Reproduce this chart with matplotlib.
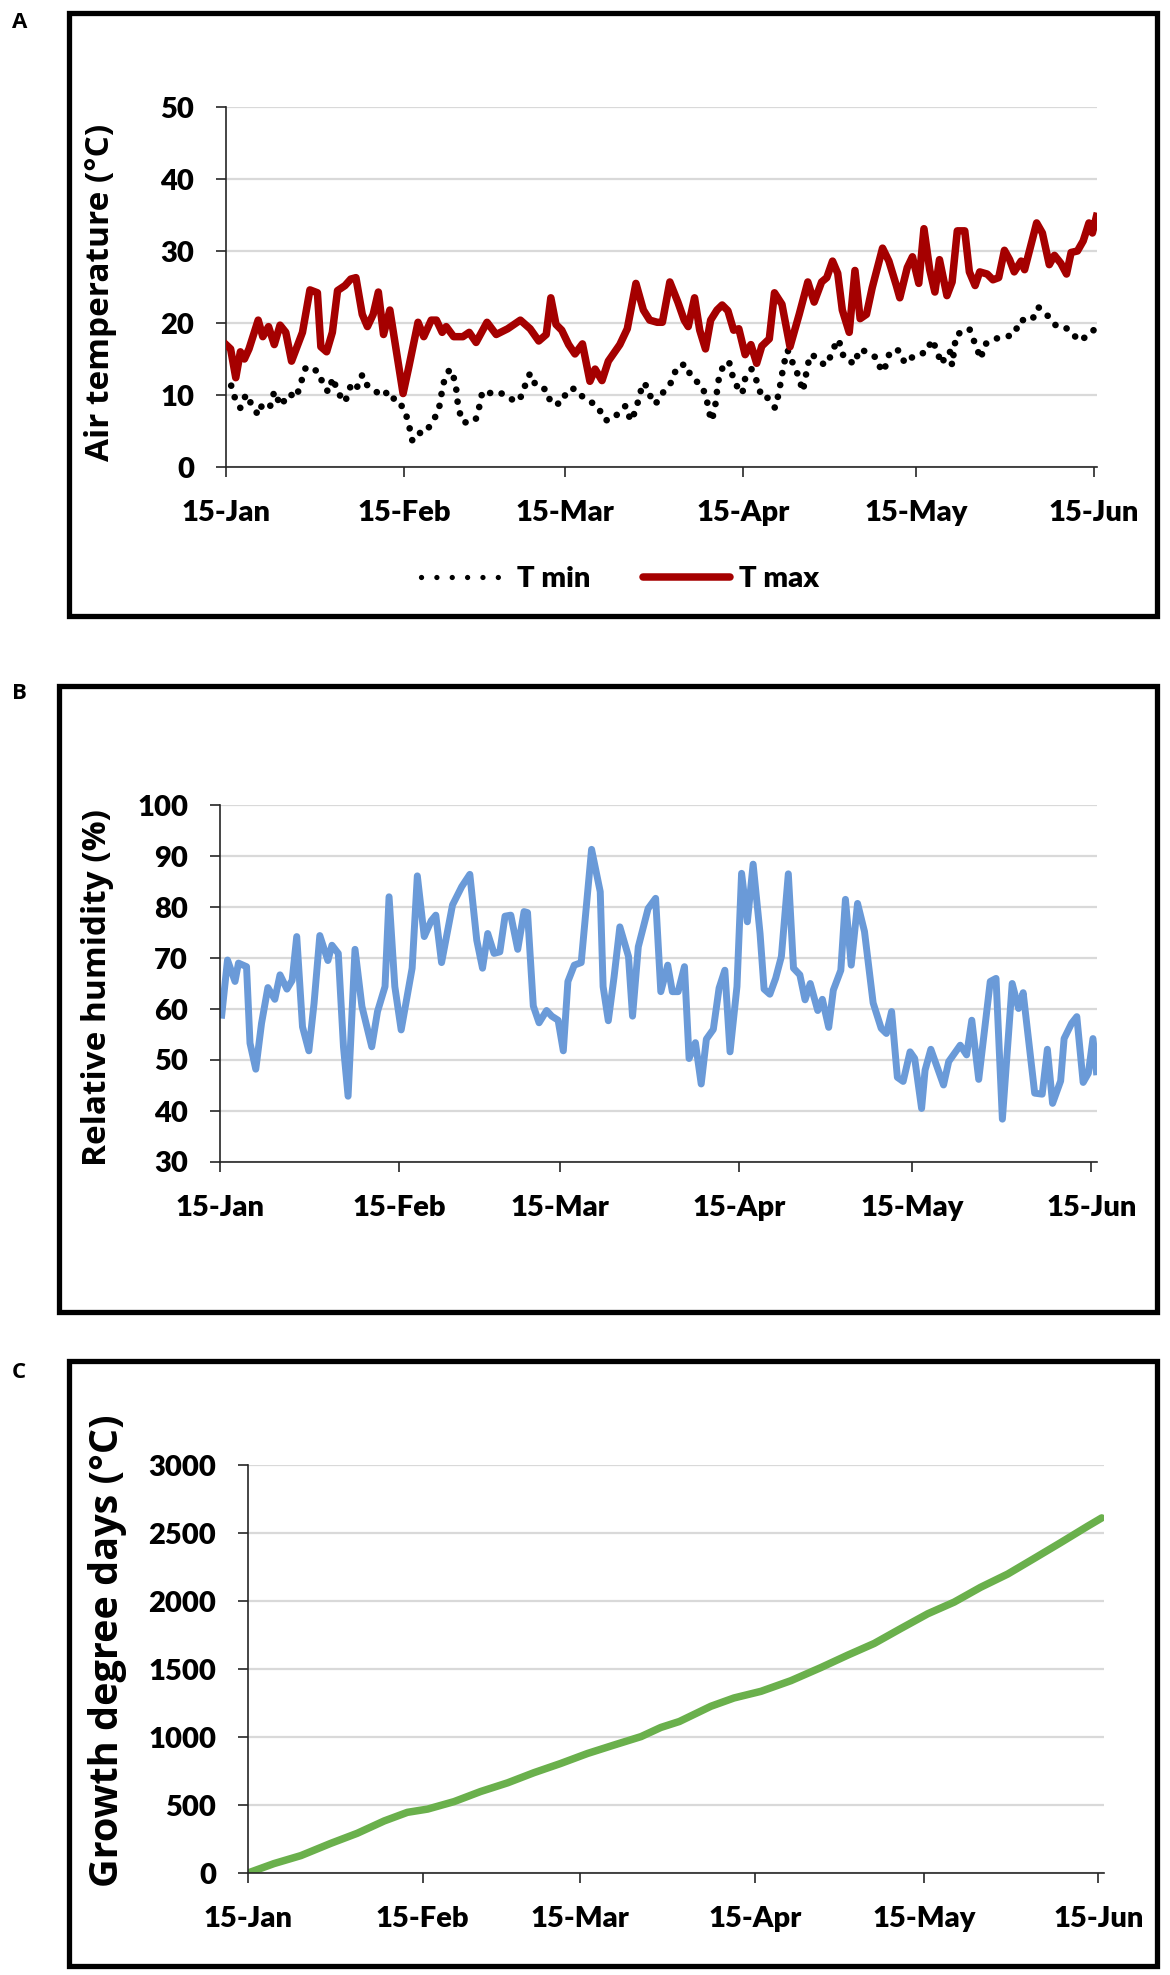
import matplotlib
matplotlib.use("Agg")
import matplotlib.pyplot as plt
import matplotlib.transforms as mtransforms
from matplotlib.patches import Rectangle
from matplotlib.lines import Line2D

# ---------------- data ----------------
tick_days = [0, 31, 59, 90, 120, 151]
tick_labels = ["15-Jan", "15-Feb", "15-Mar", "15-Apr", "15-May", "15-Jun"]

tmax_day = [0, 0.8, 1.7, 2.5, 3.2, 4, 5.6, 6.4, 7.4, 8.4, 9.4, 10.4, 11.4, 13.3, 14.6, 15.9,
            16.5, 17.5, 18.5, 19.4, 20.7, 21.7, 22.6, 23.7, 24.6, 25.6, 26.5, 27.4, 28.5,
            30.8, 31.8, 33.4, 34.4, 35.7, 36.6, 37.6, 38.3, 39.6, 41.2, 42.3, 43.5, 45.4,
            47, 49, 51.2, 52.9, 54.4, 55.7, 56.5, 57.4, 58.4, 59.6, 60.7, 62, 63.3, 64.2,
            65.4, 66.5, 68.5, 69.8, 71.3, 72.6, 73.7, 75, 75.9, 77.2, 78.6, 79.7, 80.4,
            81.5, 82.4, 83.4, 84.3, 85.4, 86.3, 87.3, 88.3, 89.2, 90.3, 91.3, 92.3, 93.2,
            94.5, 95.4, 96.7, 98.1, 99.7, 101.2, 102.3, 103.6, 104.5, 105.5, 106.4, 107.2,
            108.4, 109.4, 110.3, 111.4, 112.4, 114.2, 115.3, 116.6, 117.2, 118.5, 119.4,
            120.5, 121.4, 122.4, 123.3, 124.1, 125.4, 126.3, 127.2, 128.5, 129.3, 130.3,
            131.1, 132.4, 133.4, 134.4, 135.4, 136.3, 137.1, 138.3, 138.9, 141, 142, 143.2,
            144.1, 145.2, 146.2, 147, 148.1, 149.1, 150.1, 150.7, 151.4]
tmax_val = [17.0, 16.4, 12.4, 16.0, 15.0, 16.4, 20.4, 18.1, 19.5, 17.0, 19.7, 18.7, 14.7,
            18.7, 24.6, 24.2, 16.7, 16.0, 18.7, 24.5, 25.2, 26.1, 26.3, 21.2, 19.5, 21.2,
            24.3, 18.4, 21.8, 10.2, 13.9, 20.1, 18.1, 20.4, 20.4, 18.7, 19.5, 18.1, 18.1,
            18.7, 17.3, 20.1, 18.4, 19.2, 20.4, 19.2, 17.5, 18.4, 23.5, 19.8, 19.0, 17.0,
            15.7, 17.1, 11.9, 13.6, 12.0, 14.7, 17.0, 19.2, 25.5, 21.8, 20.4, 20.1, 20.1,
            25.7, 22.9, 20.4, 19.5, 23.5, 19.0, 16.4, 20.4, 21.8, 22.5, 21.7, 19.0, 19.2,
            15.6, 17.0, 14.4, 16.8, 17.8, 24.2, 22.6, 16.7, 21.2, 25.7, 22.9, 25.7, 26.3,
            28.6, 26.9, 21.8, 18.7, 27.3, 20.6, 21.2, 24.9, 30.4, 28.6, 25.2, 23.5, 27.7,
            29.2, 25.5, 33.1, 27.4, 24.3, 28.8, 23.8, 25.7, 32.8, 32.8, 27.1, 25.2, 27.1,
            26.8, 26.0, 26.3, 30.1, 28.8, 27.1, 28.6, 27.4, 33.9, 32.5, 28.1, 29.4, 28.3,
            26.8, 29.8, 30.0, 31.4, 33.9, 32.5, 34.8]

tmin_day = [0.9, 1.7, 2.5, 3.5, 4.3, 5.6, 6.4, 7.7, 8.4, 9.5, 11.0, 12.2, 13.1, 13.9, 16.0,
            17.0, 17.8, 18.6, 19.4, 20.7, 21.7, 22.6, 23.7, 24.6, 26.4, 27.6, 28.5, 29.5,
            31.1, 31.8, 32.4, 33.4, 34.3, 35.7, 37.0, 37.8, 38.9, 39.9, 40.4, 41.2, 42.5,
            43.4, 44.1, 44.6, 45.6, 46.9, 49.0, 50.3, 51.6, 52.2, 52.9, 53.9, 55.8, 56.5,
            58.3, 59.4, 60.7, 62.2, 63.5, 64.6, 65.9, 66.9, 68.2, 69.5, 70.4, 71.3, 71.9,
            72.6, 73.4, 74.2, 75.0, 76.3, 77.6, 78.4, 79.9, 81.0, 82.8, 83.6, 84.1, 84.5,
            85.1, 85.4, 85.8, 86.7, 87.5, 88.2, 89.3, 89.8, 90.3, 91.4, 92.5, 93.2, 94.2,
            95.5, 96.2, 96.6, 97.1, 97.7, 98.6, 99.7, 100.3, 100.7, 101.0, 101.6, 102.3,
            104.2, 105.5, 106.2, 106.7, 107.5, 109.4, 110.1, 111.1, 113.3, 114.0, 114.8,
            115.5, 117.0, 118.1, 119.9, 121.8, 122.8, 123.7, 124.4, 125.0, 125.9, 126.3,
            127.0, 128.3, 129.3, 130.2, 131.3, 131.9, 133.7, 135.7, 137.1, 138.1, 140.2,
            141.3, 143.2, 144.5, 146.5, 148.4, 150.4, 151.4]
tmin_val = [11.3, 9.2, 8.2, 10.1, 8.9, 7.2, 8.9, 8.5, 10.5, 8.5, 10.2, 9.6, 11.9, 13.9,
            13.3, 11.3, 10.4, 12.4, 10.4, 9.0, 11.3, 10.7, 12.8, 11.3, 10.3, 10.7, 9.3, 9.6,
            7.9, 5.9, 3.7, 4.8, 4.6, 5.9, 7.9, 11.6, 13.6, 11.9, 8.2, 6.2, 6.2, 6.5, 8.5,
            10.5, 10.2, 10.5, 9.9, 9.0, 10.0, 11.9, 13.0, 11.3, 10.7, 8.8, 8.8, 10.7, 10.9,
            9.6, 9.0, 8.5, 6.5, 6.5, 7.4, 8.5, 6.4, 7.9, 9.9, 11.7, 11.0, 8.8, 9.0, 10.7,
            11.9, 13.9, 14.3, 12.4, 11.3, 9.4, 7.4, 6.4, 8.5, 10.5, 12.7, 14.4, 14.6, 12.4,
            10.5, 10.2, 12.3, 13.6, 11.6, 9.6, 9.6, 8.2, 10.4, 12.4, 14.5, 16.2, 14.4, 12.4,
            10.5, 11.9, 13.4, 15.6, 15.4, 14.1, 15.8, 17.7, 17.3, 15.1, 14.3, 16.3, 16.1,
            15.1, 13.2, 14.1, 16.1, 16.2, 14.4, 15.6, 15.9, 17.7, 16.1, 14.3, 15.1, 16.1,
            14.1, 18.4, 18.8, 19.2, 17.3, 15.0, 17.0, 17.8, 18.1, 18.4, 20.4, 20.4, 22.2,
            20.8, 19.5, 19.2, 17.5, 18.5, 19.5]

rh_day = [0.3, 1.3, 2.6, 3.2, 4.6, 5.2, 6.2, 7.2, 8.3, 9.5, 10.4, 11.6, 12.5, 13.3, 14.3,
          15.4, 16.3, 17.3, 18.7, 19.4, 20.5, 21.4, 22.2, 23.4, 24.6, 26.3, 27.3, 28.6,
          29.3, 30.3, 31.4, 33.3, 34.2, 35.4, 36.6, 37.4, 38.4, 40.3, 41.9, 43.3, 44.5,
          45.5, 46.4, 47.5, 48.5, 49.4, 50.4, 51.6, 52.7, 53.3, 54.3, 55.3, 56.6, 57.5,
          58.6, 59.5, 60.3, 61.4, 62.6, 63.6, 64.4, 65.9, 66.4, 67.3, 68.3, 69.3, 70.8,
          71.5, 72.5, 74.2, 75.5, 76.4, 77.6, 78.4, 79.4, 80.5, 81.3, 82.4, 83.4, 84.3,
          85.5, 86.5, 87.5, 88.4, 89.6, 90.4, 91.4, 92.4, 93.6, 94.3, 95.3, 96.3, 97.3,
          98.5, 99.4, 100.5, 101.4, 102.3, 103.6, 104.4, 105.5, 106.3, 107.6, 108.4, 109.4,
          110.5, 111.7, 113.2, 114.6, 115.5, 116.4, 117.4, 118.4, 119.6, 120.4, 121.6,
          122.2, 123.2, 125.4, 126.3, 128.3, 129.4, 130.3, 131.5, 133.5, 134.5, 135.6,
          137.3, 138.4, 139.2, 141.2, 142.5, 143.4, 144.3, 145.7, 146.3, 147.6, 148.5,
          149.6, 150.5, 151.3, 151.9]
rh_val = [58.8, 69.6, 65.4, 69.0, 68.3, 53.3, 48.2, 57.2, 64.2, 61.9, 66.7, 63.9, 65.6,
          74.2, 56.5, 51.8, 61.1, 74.4, 69.5, 72.5, 70.9, 52.6, 42.9, 71.7, 60.5, 52.6,
          59.5, 64.4, 82.0, 64.4, 55.9, 68.0, 86.1, 74.2, 77.3, 78.4, 69.1, 80.4, 84.0,
          86.4, 73.5, 68.0, 74.8, 70.9, 71.2, 78.2, 78.4, 71.7, 79.1, 78.9, 60.6, 57.3,
          59.7, 58.6, 57.8, 51.8, 65.4, 68.6, 69.1, 81.4, 91.3, 83.0, 64.4, 57.7, 66.3,
          76.1, 70.3, 58.6, 72.2, 79.7, 81.7, 63.4, 68.6, 63.4, 63.4, 68.3, 50.3, 53.4,
          45.3, 54.1, 56.0, 64.1, 67.6, 51.6, 64.4, 86.6, 77.1, 88.4, 74.8, 63.9, 62.9,
          66.0, 70.3, 86.5, 68.0, 66.7, 61.8, 65.0, 59.7, 61.9, 56.4, 63.7, 67.6, 81.5,
          68.6, 80.7, 75.2, 61.2, 56.2, 55.2, 59.5, 46.6, 45.8, 51.6, 50.3, 40.5, 48.0,
          52.1, 45.1, 49.7, 52.9, 51.0, 57.8, 46.2, 65.4, 66.0, 38.4, 65.0, 60.1, 63.2,
          43.5, 43.3, 52.1, 41.5, 45.9, 54.2, 57.2, 58.5, 45.6, 47.4, 54.2, 47.7]

gdd_day = [0, 4.6, 9.4, 14.7, 19.4, 24.2, 28.3, 31.9, 36.6, 41.3, 46.1, 50.8, 55.5, 60.3,
           65.0, 69.8, 73.3, 76.6, 82.2, 86.3, 91.1, 96.4, 101.7, 106.5, 111.2, 115.9,
           120.7, 125.4, 130.1, 134.9, 139.6, 144.3, 149.1, 151.6]
gdd_val = [0, 69, 128, 218, 292, 383, 446, 470, 525, 599, 663, 738, 805, 879, 941, 1003,
           1070, 1114, 1226, 1287, 1336, 1414, 1510, 1602, 1688, 1797, 1906, 1992, 2101,
           2198, 2313, 2429, 2550, 2611]

# ---------------- styling ----------------
W, H = 1170, 1975
TICK_FONT = ["Lato", "DejaVu Sans"]
LABEL_FONT = ["Open Sans", "DejaVu Sans"]
GRID_COLOR = "#d9d9d9"
AX_COLOR = "#262626"

fig = plt.figure(figsize=(W / 100, H / 100), dpi=100)


def frac_rect(x0, y0, x1, y1):
    """pixel box (top-left origin) -> figure fraction [left, bottom, width, height]"""
    return [x0 / W, 1 - y1 / H, (x1 - x0) / W, (y1 - y0) / H]


def style_axes(ax, ylim, yticks, xlim, ylabel, ylabel_size, ylabel_px, ylabel_yfrac):
    ax.set_xlim(*xlim)
    ax.set_ylim(*ylim)
    ax.set_yticks(yticks)
    ax.set_xticks(tick_days)
    ax.set_xticklabels(tick_labels)
    for s in ["top", "right"]:
        ax.spines[s].set_visible(False)
    for s in ["left", "bottom"]:
        ax.spines[s].set_linewidth(1.2)
        ax.spines[s].set_color(AX_COLOR)
    ax.grid(axis="y", color=GRID_COLOR, linewidth=1.6)
    ax.set_axisbelow(True)
    ax.tick_params(axis="x", direction="out", length=7, width=1.2, color=AX_COLOR,
                   pad=17)
    ax.tick_params(axis="y", direction="out", length=7, width=1.2, color=AX_COLOR,
                   pad=16)
    for lab in ax.get_xticklabels() + ax.get_yticklabels():
        lab.set_fontfamily(TICK_FONT)
        lab.set_fontweight("heavy")
        lab.set_fontsize(21)
    # y-label placed by its centre at a fixed pixel column
    trans = mtransforms.blended_transform_factory(fig.transFigure, ax.transAxes)
    ax.text(ylabel_px / W, ylabel_yfrac, ylabel, transform=trans, rotation=90,
            ha="center", va="center", fontfamily=LABEL_FONT, fontweight="bold",
            fontsize=ylabel_size)


# frames
for (x0, y0, x1, y1) in [(69, 13, 1157, 616), (59, 686, 1157, 1312), (69, 1361, 1157, 1966)]:
    fig.patches.append(Rectangle((x0 / W, 1 - y1 / H), (x1 - x0) / W, (y1 - y0) / H,
                                 transform=fig.transFigure, fill=False,
                                 edgecolor="black", linewidth=3.8, zorder=0))

# panel letters
for letter, (px, py) in zip("ABC", [(12, 22), (12, 694), (12, 1373)]):
    fig.text(px / W, 1 - py / H, letter, fontfamily=LABEL_FONT, fontweight="bold",
             fontsize=16, ha="left", va="center")

DOTS = (0, (0.01, 1.8))

# ---------- Panel A ----------
axA = fig.add_axes(frac_rect(226, 107, 1097, 467))
axA.plot(tmin_day, tmin_val, color="black", linewidth=4.8, linestyle=DOTS,
         dash_capstyle="round", label="T min", zorder=3)
axA.plot(tmax_day, tmax_val, color="#a50000", linewidth=5.4, label="T max",
         solid_joinstyle="round", zorder=4)
style_axes(axA, (0, 50), [0, 10, 20, 30, 40, 50], (0, 151.5),
           "Air temperature (°C)", 24, 101, 0.485)

legend_handles = [
    Line2D([], [], color="black", linewidth=3.8, linestyle=(0, (0.01, 2.9)),
           dash_capstyle="round"),
    Line2D([], [], color="#a50000", linewidth=5.4, solid_capstyle="round"),
]
fig.legend(legend_handles, ["T min", "T max"], loc="center",
           bbox_to_anchor=(620 / W, 1 - 579 / H), ncol=2, frameon=False,
           prop={"family": TICK_FONT, "weight": "heavy", "size": 21},
           handlelength=3.0, handletextpad=0.3, columnspacing=1.8)

# ---------- Panel B ----------
axB = fig.add_axes(frac_rect(220, 805, 1097, 1162))
axB.plot(rh_day, rh_val, color="#6a9ad8", linewidth=5.0, solid_joinstyle="round")
style_axes(axB, (30, 100), [30, 40, 50, 60, 70, 80, 90, 100], (0, 152),
           "Relative humidity (%)", 24, 98, 0.49)

# ---------- Panel C ----------
axC = fig.add_axes(frac_rect(248, 1465, 1104, 1873))
axC.plot(gdd_day, gdd_val, color="#6ab04c", linewidth=5.4, solid_capstyle="round")
style_axes(axC, (0, 3000), [0, 500, 1000, 1500, 2000, 2500, 3000], (0, 152),
           "Growth degree days (°C)", 28.5, 108, 0.545)

fig.savefig("out.png", dpi=100, facecolor="white")
